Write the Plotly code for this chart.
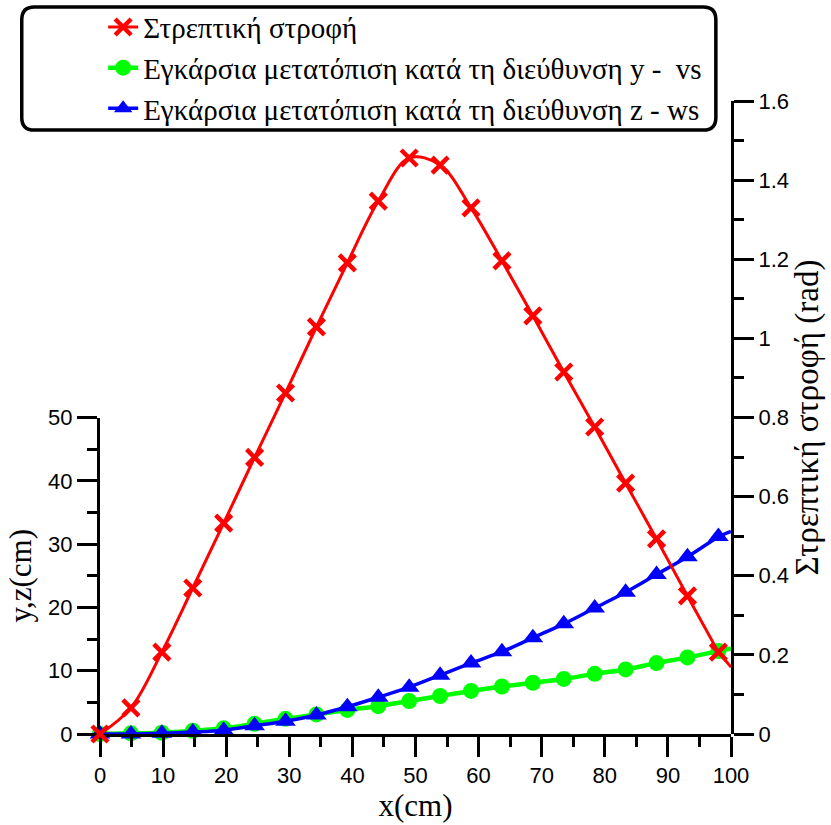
import plotly.graph_objects as go

# Stations along the member (cm); the last entry is the free end, drawn without a marker
x_cm = [0, 4.9, 9.8, 14.7, 19.6, 24.5, 29.4, 34.3, 39.2, 44.1, 49.0,
        53.9, 58.8, 63.7, 68.6, 73.5, 78.4, 83.3, 88.2, 93.1, 98.0, 100.0]

# Torsional rotation (rad)
twist_rad = [0.0, 0.066, 0.207, 0.369, 0.533, 0.699, 0.862, 1.029, 1.191, 1.347, 1.456,
             1.438, 1.330, 1.196, 1.057, 0.915, 0.776, 0.634, 0.493, 0.349, 0.207, 0.169]

# Lateral displacement in y direction - vs (cm)
vs_cm = [0.0, 0.1, 0.2, 0.5, 0.9, 1.6, 2.4, 3.1, 3.8, 4.4, 5.2,
         6.0, 6.8, 7.5, 8.1, 8.7, 9.5, 10.2, 11.2, 12.1, 13.1, 13.5]

# Lateral displacement in z direction - ws (cm)
ws_cm = [0.0, 0.0, 0.1, 0.3, 0.6, 1.3, 2.0, 3.0, 4.3, 5.8, 7.4,
         9.3, 11.2, 13.0, 15.2, 17.4, 19.9, 22.4, 25.2, 28.0, 31.2, 32.0]

names = ["Στρεπτική στροφή",
         "Εγκάρσια μετατόπιση κατά τη διεύθυνση y -  vs",
         "Εγκάρσια μετατόπιση κατά τη διεύθυνση z - ws"]

SANS = "Liberation Sans, Arial, sans-serif"
SERIF = "Liberation Serif, Times New Roman, serif"

series = [
    # name, values, y axis, colour, line width, marker, legend rank
    (names[1], vs_cm, "y", "#00ff00", 4.5, dict(symbol="circle", size=16), 2),
    (names[2], ws_cm, "y", "#0000ff", 3.5, dict(symbol="triangle-up", size=18), 3),
    (names[0], twist_rad, "y2", "#ff0000", 3,
     dict(symbol="x-thin", size=16, line=dict(color="#ff0000", width=4.5)), 1),
]

fig = go.Figure()
for name, vals, yax, color, lw, mk, rank in series:
    # curve through the measured stations, with markers
    fig.add_trace(go.Scatter(
        x=x_cm[:-1], y=vals[:-1], name=name, mode="lines+markers",
        line=dict(color=color, width=lw, shape="spline"),
        marker=dict(color=color, **mk),
        xaxis="x", yaxis=yax, cliponaxis=False, legendrank=rank))
    # continuation of the curve to the free end (no marker)
    fig.add_trace(go.Scatter(
        x=x_cm[-2:], y=vals[-2:], mode="lines", showlegend=False, hoverinfo="skip",
        line=dict(color=color, width=lw),
        xaxis="x", yaxis=yax))

axis_common = dict(
    showline=True, linecolor="black", linewidth=3,
    ticks="outside", ticklen=20, tickwidth=3, tickcolor="black",
    showgrid=False, zeroline=False,
    tickfont=dict(family=SANS, size=22, color="black"),
)
minor_common = dict(ticklen=10, tickwidth=3, tickcolor="black", ticks="outside")

fig.update_layout(
    width=831, height=825,
    margin=dict(l=100, r=100, t=101, b=91, autoexpand=False),
    paper_bgcolor="white", plot_bgcolor="rgba(0,0,0,0)",
    xaxis=dict(range=[0, 100], dtick=10, minor=dict(dtick=5, **minor_common),
               title=dict(text="x(cm)", font=dict(family=SERIF, size=31, color="black"), standoff=2),
               **axis_common),
    yaxis=dict(range=[0, 50], domain=[0, 0.5], dtick=10, anchor="x",
               minor=dict(dtick=5, **minor_common),
               title=dict(text="y,z(cm)", font=dict(family=SERIF, size=31, color="black"), standoff=8),
               **axis_common),
    yaxis2=dict(range=[0, 1.6], domain=[0, 1], dtick=0.2, anchor="x", side="right",
                minor=dict(dtick=0.1, **minor_common),
                title=dict(text="Στρεπτική στροφή (rad)",
                           font=dict(family=SERIF, size=33, color="black"), standoff=6),
                **axis_common),
    legend=dict(x=0.005, xanchor="left", y=1.157, yanchor="top",
                bgcolor="rgba(255,255,255,0)", borderwidth=0,
                font=dict(family=SERIF, size=29, color="black"),
                tracegroupgap=0),
    showlegend=True,
)

# rounded frame around the legend (paper coordinates)
x0, x1, y0, y1 = -0.124, 0.976, 0.954, 1.1485
rx, ry = 0.02, 0.02
path = (f"M {x0 + rx},{y1} L {x1 - rx},{y1} Q {x1},{y1} {x1},{y1 - ry} "
        f"L {x1},{y0 + ry} Q {x1},{y0} {x1 - rx},{y0} "
        f"L {x0 + rx},{y0} Q {x0},{y0} {x0},{y0 + ry} "
        f"L {x0},{y1 - ry} Q {x0},{y1} {x0 + rx},{y1} Z")
fig.add_shape(type="path", path=path, xref="paper", yref="paper",
              line=dict(color="black", width=3.5), fillcolor="white", layer="below")

fig.write_html("out.html")
